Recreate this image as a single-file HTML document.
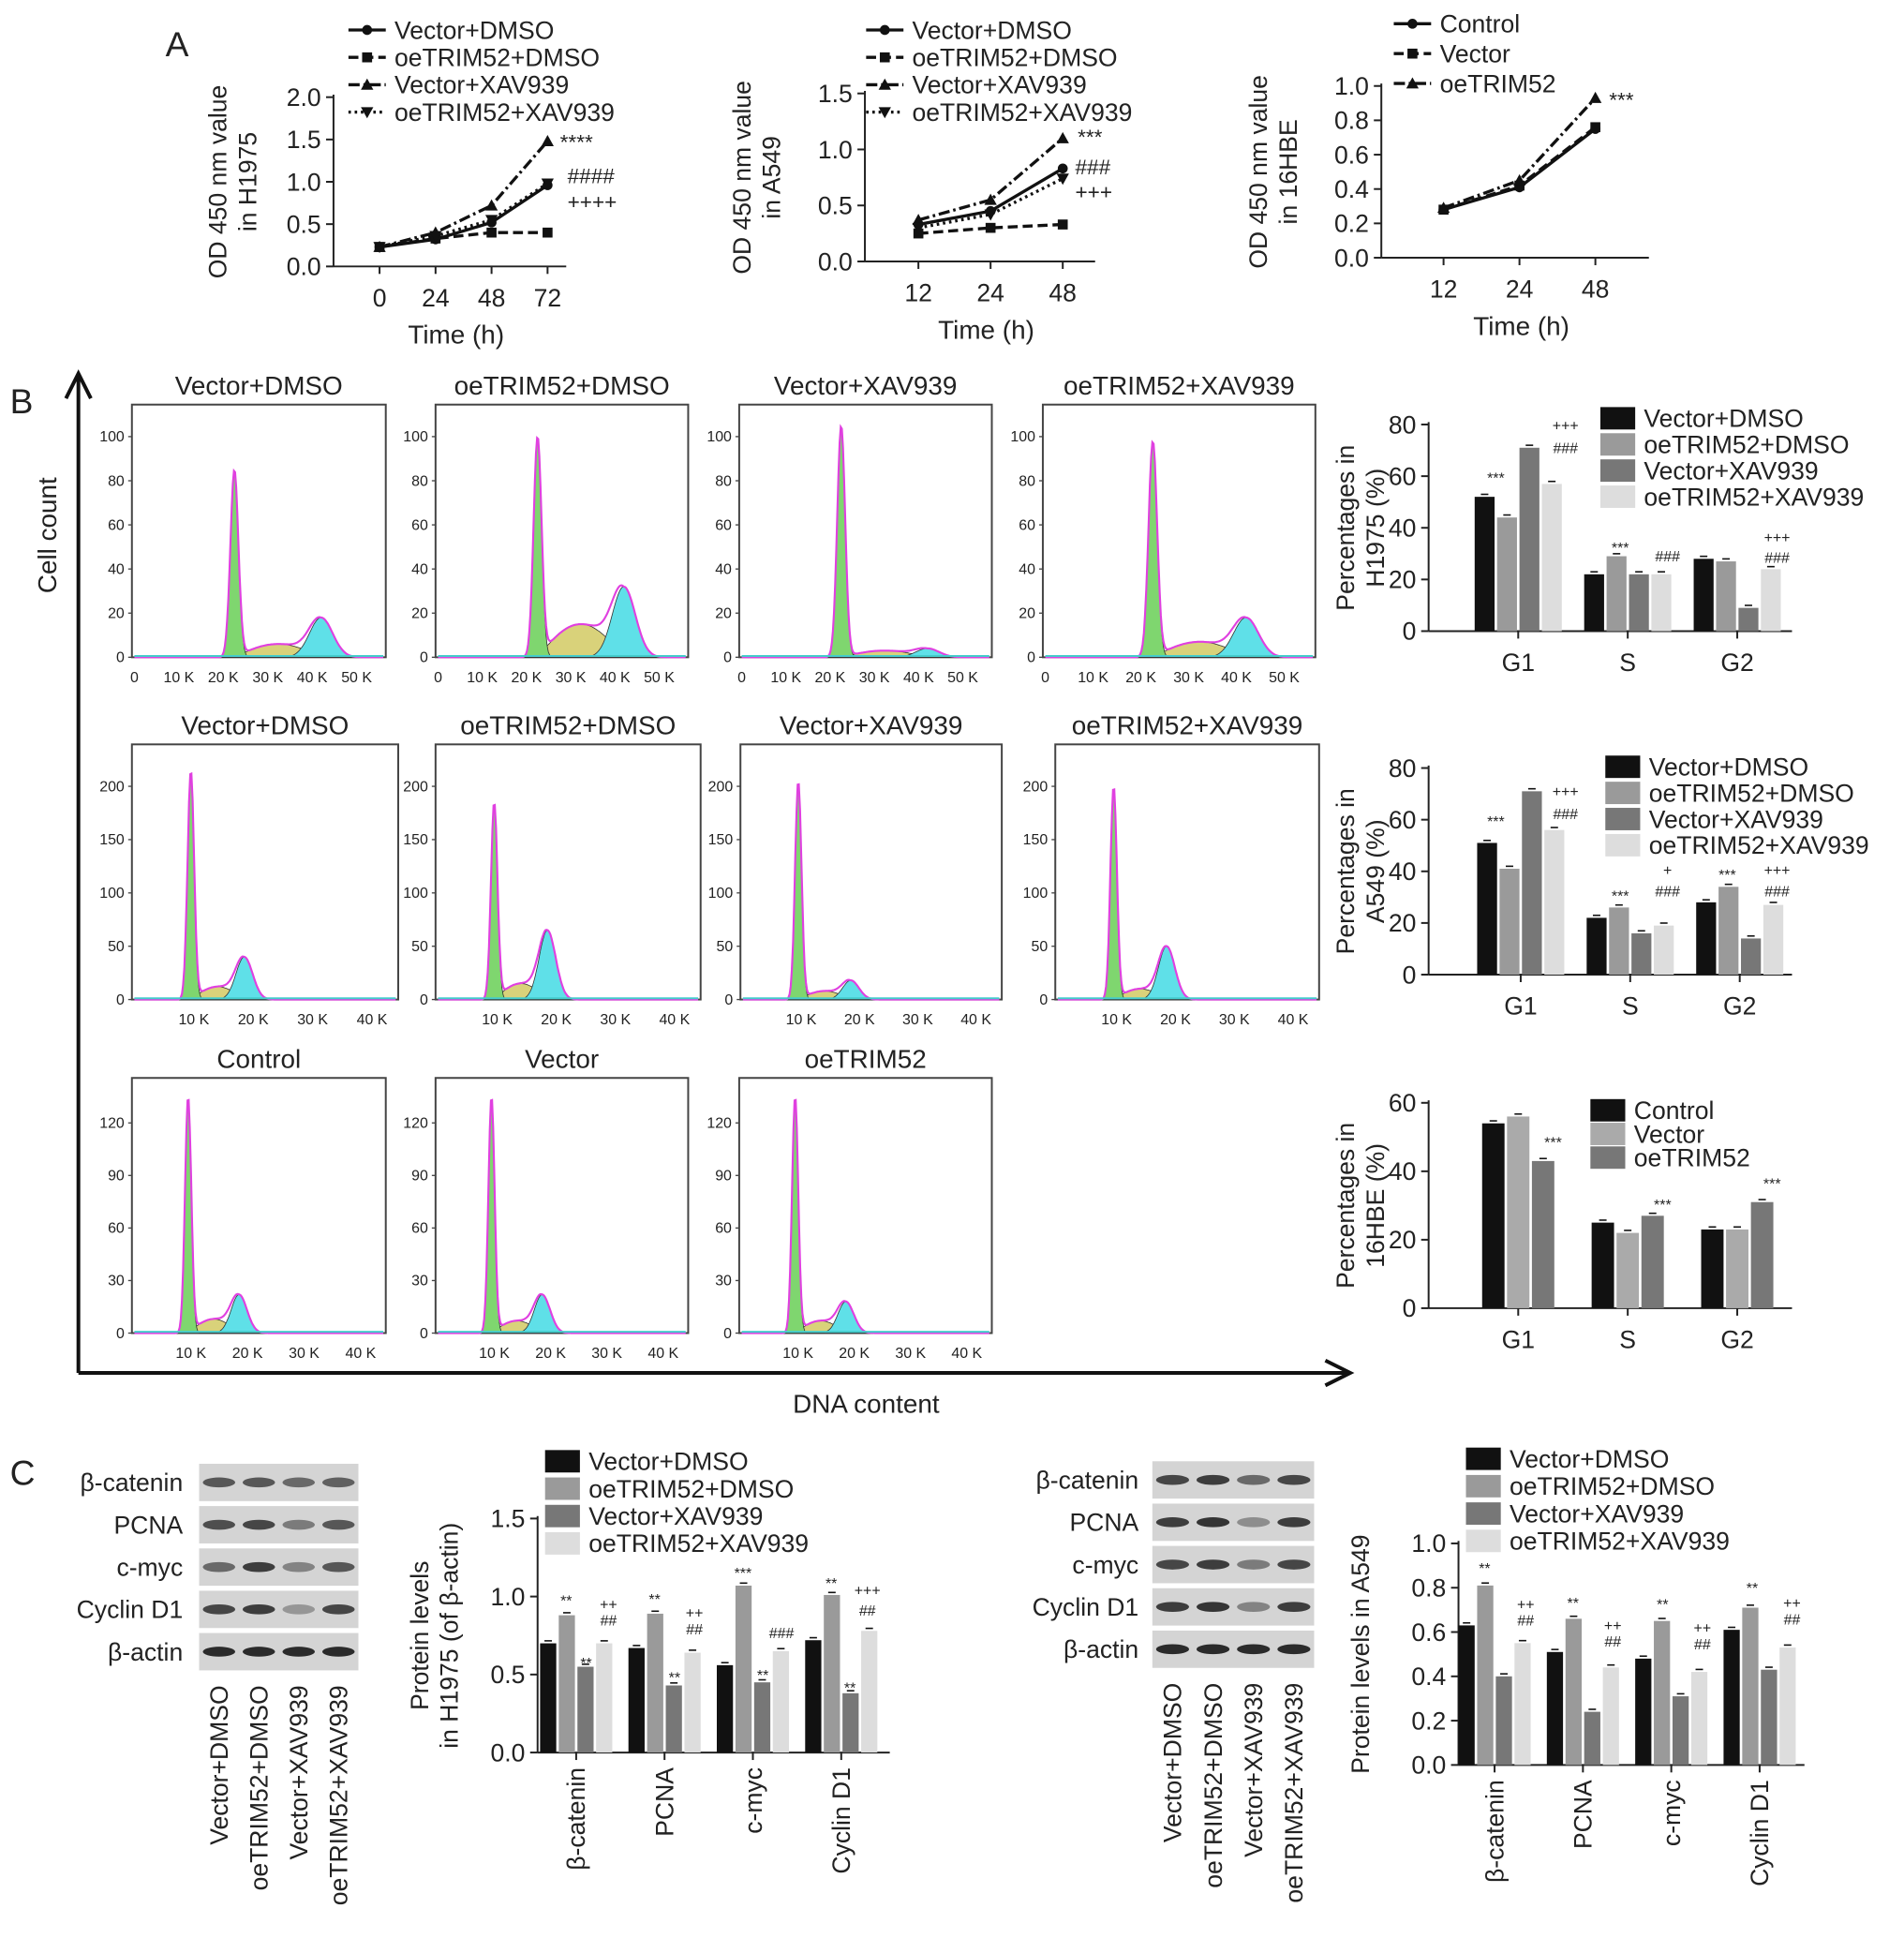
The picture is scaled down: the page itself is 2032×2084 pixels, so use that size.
<!DOCTYPE html>
<html><head><meta charset="utf-8">
<style>
html,body{margin:0;padding:0;background:#fff;}
svg{display:block;font-family:"Liberation Sans",Arial,sans-serif;}
</style></head>
<body>
<svg id="fig" xmlns="http://www.w3.org/2000/svg" width="2032" height="2084" viewBox="0 0 1530 1569">
<rect x="0" y="0" width="1530" height="1569" fill="#fff"/>
</svg>
<script>
// ---------- DATA ----------
const a1Times = [0, 24, 48, 72];
const a1Names = ["Vector+DMSO", "oeTRIM52+DMSO", "Vector+XAV939", "oeTRIM52+XAV939"];
const a1VecDmso = [0.23, 0.32, 0.52, 0.96];
const a1OeDmso = [0.23, 0.33, 0.40, 0.40];
const a1VecXav = [0.23, 0.40, 0.72, 1.48];
const a1OeXav = [0.23, 0.36, 0.55, 0.98];
const a1Ticks = [0, 0.5, 1.0, 1.5, 2.0];

const a2Times = ["12", "24", "48"];
const a2VecDmso = [0.33, 0.45, 0.83];
const a2OeDmso = [0.25, 0.30, 0.33];
const a2VecXav = [0.37, 0.55, 1.10];
const a2OeXav = [0.30, 0.42, 0.74];
const a2Ticks = [0, 0.5, 1.0, 1.5];

const a3Times = ["12", "24", "48"];
const a3Names = ["Control", "Vector", "oeTRIM52"];
const a3Control = [0.28, 0.41, 0.75];
const a3Vector = [0.28, 0.42, 0.76];
const a3Oe = [0.29, 0.45, 0.93];
const a3Ticks = [0, 0.2, 0.4, 0.6, 0.8, 1.0];

const phases = ["G1", "S", "G2"];
const b1VecDmso = [52, 22, 28];
const b1OeDmso = [44, 29, 27];
const b1VecXav = [71, 22, 9];
const b1OeXav = [57, 22, 24];
const b2VecDmso = [51, 22, 28];
const b2OeDmso = [41, 26, 34];
const b2VecXav = [71, 16, 14];
const b2OeXav = [56, 19, 27];
const b3Control = [54, 25, 23];
const b3Vector = [56, 22, 23];
const b3Oe = [43, 27, 31];

const histTitles = ["Vector+DMSO","oeTRIM52+DMSO","Vector+XAV939","oeTRIM52+XAV939","Vector+DMSO","oeTRIM52+DMSO","Vector+XAV939","oeTRIM52+XAV939","Control","Vector","oeTRIM52"];
const histG1Height = [85, 100, 105, 98, 215, 185, 205, 200, 135, 135, 135];
const histSHeight = [6, 15, 3, 7, 12, 15, 8, 10, 8, 7, 7];
const histG2Height = [18, 32, 4, 18, 40, 65, 18, 50, 22, 22, 18];

const proteins = ["β-catenin", "PCNA", "c-myc", "Cyclin D1"];
const c1VecDmso = [0.70, 0.67, 0.56, 0.72];
const c1OeDmso = [0.88, 0.89, 1.07, 1.01];
const c1VecXav = [0.55, 0.43, 0.45, 0.38];
const c1OeXav = [0.70, 0.64, 0.65, 0.78];
const c2VecDmso = [0.63, 0.51, 0.48, 0.61];
const c2OeDmso = [0.81, 0.66, 0.65, 0.71];
const c2VecXav = [0.40, 0.24, 0.31, 0.43];
const c2OeXav = [0.55, 0.44, 0.42, 0.53];

// ---------- HELPERS ----------
const NS = "http://www.w3.org/2000/svg";
const svg = document.getElementById("fig");
function mk(tag, attrs, parent) {
  const e = document.createElementNS(NS, tag);
  for (const k in attrs) e.setAttribute(k, attrs[k]);
  (parent || svg).appendChild(e);
  return e;
}
function txt(x, y, s, size, parent, extra) {
  const t = mk("text", Object.assign({x: x, y: y, "font-size": size, fill: "#222"}, extra || {}), parent);
  t.textContent = s;
  return t;
}
function grp(name) {
  const g = mk("g", {});
  
  
  return g;
}
function marker(g, kind, x, y) {
  let m;
  if (kind === "circle") m = mk("circle", {cx: x, cy: y, r: 4, fill: "#111"}, g);
  else if (kind === "square") m = mk("rect", {x: x - 4, y: y - 4, width: 8, height: 8, fill: "#111"}, g);
  else if (kind === "tri") m = mk("path", {d: `M${x} ${y-5}L${x+5} ${y+4}L${x-5} ${y+4}Z`, fill: "#111"}, g);
  else m = mk("path", {d: `M${x} ${y+5}L${x+5} ${y-4}L${x-5} ${y-4}Z`, fill: "#111"}, g);
  
  
}
const dashes = {solid: "", dash: "8,4", dashdot: "9,3,2,3", dot: "2,3"};

// panel letters
txt(133, 45, "A", 28);
txt(8, 332, "B", 28);
txt(8, 1193, "C", 28);

// ---------- LINE CHARTS ----------
function lineChart(cfg) {
  const g = grp(cfg.name);
  const ys = v => cfg.y0 - (v - cfg.ticks[0]) / (cfg.ticks[cfg.ticks.length - 1] - cfg.ticks[0]) * (cfg.y0 - cfg.y1);
  mk("line", {x1: cfg.ax, y1: cfg.y1 - 2, x2: cfg.ax, y2: cfg.y0, stroke: "#222", "stroke-width": 1.5}, g);
  mk("line", {x1: cfg.ax, y1: cfg.y0, x2: cfg.xEnd, y2: cfg.y0, stroke: "#222", "stroke-width": 1.5}, g);
  cfg.ticks.forEach(t => {
    const y = ys(t);
    mk("line", {x1: cfg.ax - 6, y1: y, x2: cfg.ax, y2: y, stroke: "#222", "stroke-width": 1.5}, g);
    const lab = txt(cfg.ax - 10, y + 7, cfg.fmt(t), 20, g, {"text-anchor": "end"});
    
  });
  cfg.cats.forEach((c, i) => {
    const x = cfg.xs(c, i);
    mk("line", {x1: x, y1: cfg.y0, x2: x, y2: cfg.y0 + 6, stroke: "#222", "stroke-width": 1.5}, g);
    const lab = txt(x, cfg.y0 + 32, String(c), 20, g, {"text-anchor": "middle"});
    
  });
  const xt = txt((cfg.ax + cfg.xEnd) / 2 + 5, cfg.y0 + 62, "Time (h)", 21, g, {"text-anchor": "middle"});
  
  const yt = txt(0, 0, cfg.ylab1, 20, g, {"text-anchor": "middle", transform: `translate(${cfg.ax - cfg.yoff},${(cfg.y0 + cfg.y1) / 2}) rotate(-90)`});
  
  const yt2 = txt(0, 0, cfg.ylab2, 20, g, {"text-anchor": "middle", transform: `translate(${cfg.ax - cfg.yoff + 24},${(cfg.y0 + cfg.y1) / 2}) rotate(-90)`});
  
  cfg.series.forEach((s, si) => {
    const pts = s.map((v, i) => [cfg.xs(cfg.cats[i], i), ys(v)]);
    const p = mk("polyline", {points: pts.map(q => q.join(",")).join(" "), fill: "none", stroke: "#111", "stroke-width": 2.5, "stroke-dasharray": dashes[cfg.styles[si]]}, g);
    
    
    pts.forEach(q => marker(g, cfg.marks[si], q[0], q[1]));
  });
  cfg.names.forEach((n, si) => {
    const y = cfg.legY + si * cfg.legStep;
    const lg = mk("g", {}, g);
    
    
    mk("line", {x1: cfg.legX, y1: y, x2: cfg.legX + 30, y2: y, stroke: "#111", "stroke-width": 2.5, "stroke-dasharray": dashes[cfg.styles[si]]}, lg);
    marker(lg, cfg.marks[si], cfg.legX + 15, y);
    txt(cfg.legX + 37, y + 7, n, 20, lg);
  });
  cfg.notes.forEach(nt => txt(nt[0], nt[1], nt[2], 17, g));
}
const fmt1 = t => t.toFixed(1);
lineChart({name: "chart-a-h1975", ax: 268, y0: 214, y1: 78, xEnd: 455, ticks: a1Ticks, fmt: fmt1, yoff: 86,
  cats: a1Times, xs: (c) => 305 + c / 72 * 135,
  series: [a1VecDmso, a1OeDmso, a1VecXav, a1OeXav], names: a1Names,
  styles: ["solid", "dash", "dashdot", "dot"], marks: ["circle", "square", "tri", "itri"],
  ylab1: "OD 450 nm value", ylab2: "in H1975", legX: 280, legY: 24, legStep: 22,
  notes: [[450, 120, "****"], [456, 147, "####"], [456, 168, "++++"]]});
lineChart({name: "chart-a-a549", ax: 695, y0: 210, y1: 75, xEnd: 880, ticks: a2Ticks, fmt: fmt1, yoff: 92,
  cats: a2Times, xs: (c, i) => 738 + i * 58,
  series: [a2VecDmso, a2OeDmso, a2VecXav, a2OeXav], names: a1Names,
  styles: ["solid", "dash", "dashdot", "dot"], marks: ["circle", "square", "tri", "itri"],
  ylab1: "OD 450 nm value", ylab2: "in A549", legX: 696, legY: 24, legStep: 22,
  notes: [[866, 116, "***"], [864, 140, "###"], [864, 160, "+++"]]});
lineChart({name: "chart-a-16hbe", ax: 1110, y0: 207, y1: 69, xEnd: 1325, ticks: a3Ticks, fmt: fmt1, yoff: 92,
  cats: a3Times, xs: (c, i) => 1160 + i * 61,
  series: [a3Control, a3Vector, a3Oe], names: a3Names,
  styles: ["solid", "dash", "dashdot"], marks: ["circle", "square", "tri"],
  ylab1: "OD 450 nm value", ylab2: "in 16HBE", legX: 1120, legY: 19, legStep: 24,
  notes: [[1293, 86, "***"]]});

// ---------- HISTOGRAMS ----------
const boxes = [
  [106,325,204,203,1],[350,325,203,203,1],[594,325,203,203,1],[838,325,219,203,1],
  [106,598,214,205,2],[350,598,213,205,2],[595,598,210,205,2],[848,598,212,205,2],
  [106,866,204,205,3],[350,866,203,205,3],[594,866,203,205,3]];
const rowYmax = {1: 110, 2: 230, 3: 140};
const rowYticks = {1: [0,20,40,60,80,100], 2: [0,50,100,150,200], 3: [0,30,60,90,120]};
function gauss(x, m, s) { return Math.exp(-0.5 * ((x - m) / s) ** 2); }
boxes.forEach((b, i) => {
  const [bx, by, bw, bh, row] = b;
  const g = grp("histogram-" + (i + 1));
  const t = txt(bx + bw / 2, by - 8, histTitles[i], 21, g, {"text-anchor": "middle"});
  
  mk("rect", {x: bx, y: by, width: bw, height: bh, fill: "#fff", stroke: "#444", "stroke-width": 1.5}, g);
  const kmax = row === 1 ? 56 : 44;
  const g1 = row === 1 ? 22.5 : 9.5, g2 = row === 1 ? 42 : 18.5, sg1 = row === 1 ? 0.9 : 0.55, sg2 = row === 1 ? 2.6 : 1.4;
  const px = k => bx + 2 + k / kmax * (bw - 4);
  const ymax = rowYmax[row];
  const py = v => by + bh - v / ymax * (bh - 8);
  rowYticks[row].forEach(tk => {
    txt(bx - 6, py(tk) + 4, String(tk), 12, g, {"text-anchor": "end"});
    mk("line", {x1: bx - 3, y1: py(tk), x2: bx, y2: py(tk), stroke: "#444"}, g);
  });
  const kt = row === 1 ? [0,10,20,30,40,50] : [10,20,30,40];
  kt.forEach(k => txt(px(k), by + bh + 20, k === 0 ? "0" : k + " K", 12, g, {"text-anchor": "middle"}));
  const N = 220;
  let pG1 = [], pS = [], pG2 = [], pT = [];
  for (let j = 0; j <= N; j++) {
    const k = j / N * kmax;
    const v1 = histG1Height[i] * gauss(k, g1, sg1);
    const v2 = histG2Height[i] * gauss(k, g2, sg2);
    const vs = (k > g1 && k < g2) ? histSHeight[i] * Math.sin(Math.PI * (k - g1) / (g2 - g1)) : 0;
    pG1.push([px(k), py(v1)]); pG2.push([px(k), py(v2)]); pS.push([px(k), py(vs)]);
    pT.push([px(k), py(v1 + v2 + vs)]);
  }
  const base = by + bh;
  const area = (pts, col, nm) => {
    const a = mk("path", {d: `M${pts[0][0]} ${base}L` + pts.map(q => q[0].toFixed(1) + " " + q[1].toFixed(1)).join("L") + `L${pts[pts.length-1][0]} ${base}Z`, fill: col, stroke: "#333", "stroke-width": 0.6}, g);
    
    
  };
  area(pS, "#d9d27a", "s-phase-area");
  area(pG2, "#5fe0e8", "g2-phase-area");
  area(pG1, "#7fd66f", "g1-phase-area");
  const o = mk("polyline", {points: pT.map(q => q[0].toFixed(1) + "," + q[1].toFixed(1)).join(" "), fill: "none", stroke: "#e040e0", "stroke-width": 1.6}, g);
  
  mk("line", {x1: bx + 2, y1: base - 1, x2: bx + bw - 2, y2: base - 1, stroke: "#4cc", "stroke-width": 1.5}, g);
});
// big axes
const axg = grp("dna-content-axes");
mk("path", {d: "M63 1103 L63 302 M53 320 L63 300 L73 320", fill: "none", stroke: "#111", "stroke-width": 3}, axg);
mk("path", {d: "M63 1103 L1083 1103 M1065 1093 L1085 1103 L1065 1113", fill: "none", stroke: "#111", "stroke-width": 3}, axg);
txt(0, 0, "Cell count", 21, axg, {"text-anchor": "middle", transform: "translate(45,430) rotate(-90)"});
txt(696, 1135, "DNA content", 21, axg, {"text-anchor": "middle"});

// ---------- BAR CHARTS ----------
function barChart(cfg) {
  const g = grp(cfg.name);
  const top = cfg.ticks[cfg.ticks.length - 1];
  const ys = v => cfg.y0 - v / top * (cfg.y0 - cfg.y1);
  mk("line", {x1: cfg.ax, y1: cfg.y1 - 2, x2: cfg.ax, y2: cfg.y0, stroke: "#222", "stroke-width": 1.5}, g);
  mk("line", {x1: cfg.ax, y1: cfg.y0, x2: cfg.xEnd, y2: cfg.y0, stroke: "#222", "stroke-width": 1.5}, g);
  cfg.ticks.forEach(t => {
    const y = ys(t);
    mk("line", {x1: cfg.ax - 6, y1: y, x2: cfg.ax, y2: y, stroke: "#222", "stroke-width": 1.5}, g);
    txt(cfg.ax - 10, y + 7, cfg.fmt(t), 20, g, {"text-anchor": "end"});
  });
  const n = cfg.series.length;
  cfg.cats.forEach((c, ci) => {
    const cx = cfg.cx0 + ci * cfg.step;
    mk("line", {x1: cx, y1: cfg.y0, x2: cx, y2: cfg.y0 + 6, stroke: "#222", "stroke-width": 1.5}, g);
    if (cfg.rotCats) {
      txt(0, 0, c, 20, g, {"text-anchor": "end", transform: `translate(${cx + 7},${cfg.y0 + 12}) rotate(-90)`});
    } else {
      txt(cx, cfg.y0 + 32, c, 20, g, {"text-anchor": "middle"});
    }
    cfg.series.forEach((s, si) => {
      const x = cx - n * cfg.bw / 2 - (n - 1) * cfg.gap / 2 + si * (cfg.bw + cfg.gap);
      const r = mk("rect", {x: x, y: ys(s[ci]), width: cfg.bw, height: cfg.y0 - ys(s[ci]), fill: cfg.colors[si]}, g);
      
      
      mk("line", {x1: x + cfg.bw / 2 - 3, y1: ys(s[ci]) - 2, x2: x + cfg.bw / 2 + 3, y2: ys(s[ci]) - 2, stroke: "#111", "stroke-width": 1.2}, g);
    });
  });
  cfg.ylab.forEach((l, li) => {
    txt(0, 0, l, 20, g, {"text-anchor": "middle", transform: `translate(${cfg.ax - cfg.yoff + li * 24},${(cfg.y0 + cfg.y1) / 2}) rotate(-90)`});
  });
  cfg.names.forEach((nm, si) => {
    const y = cfg.legY + si * cfg.legStep;
    const lg = mk("g", {}, g);
    
    
    mk("rect", {x: cfg.legX, y: y - 9, width: 28, height: 18, fill: cfg.colors[si]}, lg);
    txt(cfg.legX + 35, y + 7, nm, 20, lg);
  });
  (cfg.notes || []).forEach(nt => txt(nt[0], nt[1], nt[2], 12, g, {"text-anchor": "middle"}));
}
const col4 = ["#111", "#9a9a9a", "#777", "#ddd"];
barChart({name: "bar-h1975-cycle", ax: 1148, y0: 507, y1: 341, xEnd: 1440, ticks: [0,20,40,60,80], fmt: String, yoff: 60,
  cats: phases, cx0: 1220, step: 88, bw: 16, gap: 2, series: [b1VecDmso, b1OeDmso, b1VecXav, b1OeXav], colors: col4,
  ylab: ["Percentages in", "H1975 (%)"], names: a1Names, legX: 1286, legY: 336, legStep: 21,
  notes: [[1202, 388, "***"], [1302, 444, "***"], [1340, 451, "###"], [1428, 452, "###"], [1428, 436, "+++"], [1258, 364, "###"], [1258, 346, "+++"]]});
barChart({name: "bar-a549-cycle", ax: 1148, y0: 783, y1: 617, xEnd: 1440, ticks: [0,20,40,60,80], fmt: String, yoff: 60,
  cats: phases, cx0: 1222, step: 88, bw: 16, gap: 2, series: [b2VecDmso, b2OeDmso, b2VecXav, b2OeXav], colors: col4,
  ylab: ["Percentages in", "A549 (%)"], names: a1Names, legX: 1290, legY: 616, legStep: 21,
  notes: [[1202, 664, "***"], [1302, 724, "***"], [1340, 720, "###"], [1340, 703, "+"], [1388, 707, "***"], [1428, 720, "###"], [1428, 703, "+++"], [1258, 658, "###"], [1258, 640, "+++"]]});
barChart({name: "bar-16hbe-cycle", ax: 1148, y0: 1051, y1: 886, xEnd: 1440, ticks: [0,20,40,60], fmt: String, yoff: 60,
  cats: phases, cx0: 1220, step: 88, bw: 18, gap: 2, series: [b3Control, b3Vector, b3Oe], colors: ["#111", "#aaa", "#777"],
  ylab: ["Percentages in", "16HBE (%)"], names: a3Names, legX: 1278, legY: 892, legStep: 19,
  notes: [[1248, 922, "***"], [1336, 972, "***"], [1424, 955, "***"]]});
barChart({name: "bar-h1975-protein", ax: 432, y0: 1408, y1: 1220, xEnd: 715, ticks: [0,0.5,1.0,1.5], fmt: fmt1, yoff: 88,
  cats: proteins, cx0: 463, step: 71, bw: 13, gap: 2, series: [c1VecDmso, c1OeDmso, c1VecXav, c1OeXav], colors: col4, rotCats: true,
  ylab: ["Protein levels", "in H1975 (of β-actin)"], names: a1Names, legX: 438, legY: 1174, legStep: 22,
  notes: [[455, 1290, "**"], [471, 1340, "**"], [489, 1293, "++"], [489, 1306, "##"], [526, 1289, "**"], [542, 1352, "**"], [558, 1300, "++"], [558, 1313, "##"], [597, 1268, "***"], [613, 1350, "**"], [628, 1316, "###"], [668, 1276, "**"], [683, 1360, "**"], [697, 1282, "+++"], [697, 1298, "##"]]});
barChart({name: "bar-a549-protein", ax: 1172, y0: 1418, y1: 1240, xEnd: 1450, ticks: [0,0.2,0.4,0.6,0.8,1.0], fmt: fmt1, yoff: 72,
  cats: proteins, cx0: 1201, step: 71, bw: 13, gap: 2, series: [c2VecDmso, c2OeDmso, c2VecXav, c2OeXav], colors: col4, rotCats: true,
  ylab: ["Protein levels in A549"], names: a1Names, legX: 1178, legY: 1172, legStep: 22,
  notes: [[1193, 1264, "**"], [1226, 1293, "++"], [1226, 1306, "##"], [1264, 1292, "**"], [1296, 1310, "++"], [1296, 1323, "##"], [1336, 1293, "**"], [1368, 1312, "++"], [1368, 1325, "##"], [1408, 1280, "**"], [1440, 1292, "++"], [1440, 1305, "##"]]});

// ---------- BLOTS ----------
const blotRows = ["β-catenin", "PCNA", "c-myc", "Cyclin D1", "β-actin"];
const blot1Int = [[0.7,0.7,0.6,0.65],[0.75,0.8,0.5,0.7],[0.6,0.85,0.45,0.7],[0.8,0.85,0.35,0.8],[0.95,0.95,0.95,0.95]];
const blot2Int = [[0.8,0.85,0.6,0.8],[0.85,0.9,0.4,0.85],[0.8,0.85,0.5,0.8],[0.85,0.9,0.45,0.85],[0.95,0.95,0.95,0.95]];
function blot(name, x, y0, w, rowH, ints, labX) {
  const g = grp(name);
  ints.forEach((row, ri) => {
    const y = y0 + ri * rowH;
    mk("rect", {x: x, y: y, width: w, height: rowH - 4, fill: "#d4d4d4"}, g);
    txt(labX, y + rowH / 2 + 5, blotRows[ri], 20, g, {"text-anchor": "end"});
    row.forEach((v, li) => {
      const cx = x + (li + 0.5) * w / 4;
      const b = mk("ellipse", {cx: cx, cy: y + rowH / 2 - 2, rx: w / 8 - 3, ry: 4, fill: "#222", opacity: v}, g);
      
    });
  });
  a1Names.forEach((n, li) => {
    txt(0, 0, n, 20, g, {"text-anchor": "end", transform: `translate(${x + (li + 0.5) * w / 4 + 7},${y0 + ints.length * rowH + 8}) rotate(-90)`});
  });
}
blot("blot-h1975", 160, 1176, 128, 34, blot1Int, 147);
blot("blot-a549", 926, 1174, 130, 34, blot2Int, 915);
</script>
</body></html>
